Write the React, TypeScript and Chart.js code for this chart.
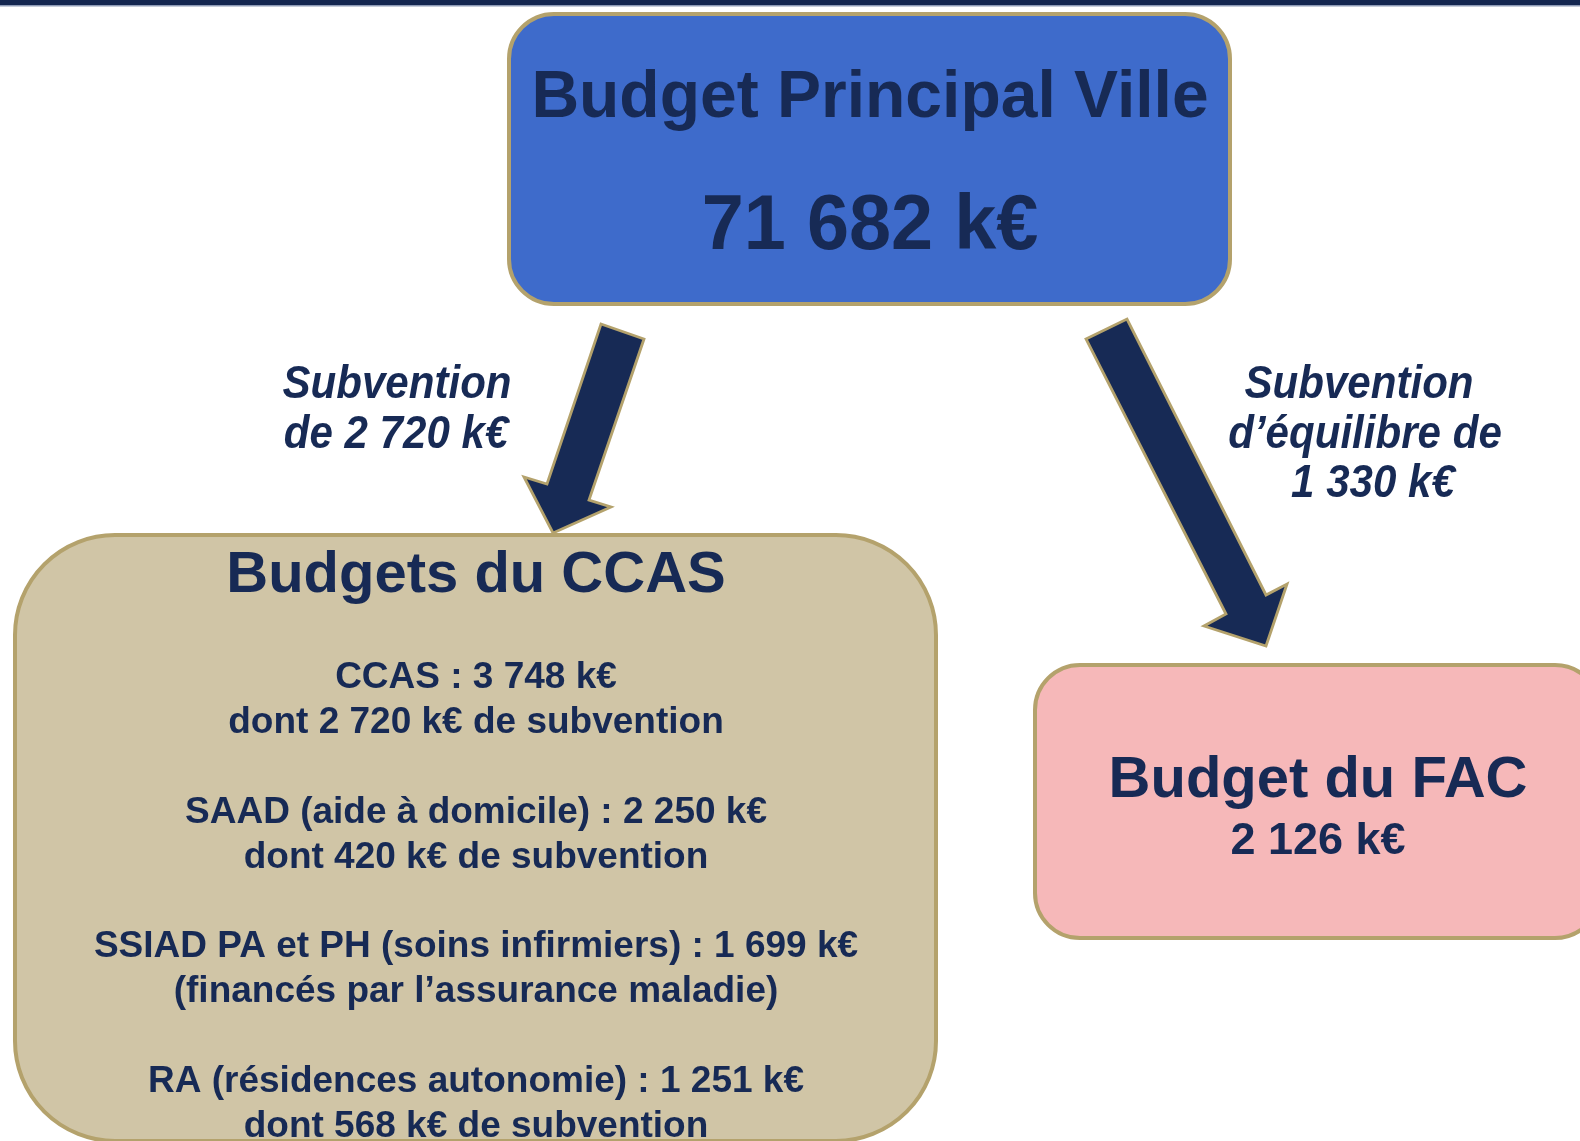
import React, { useEffect, useRef } from "react";
import { Chart, registerables } from "chart.js";

Chart.register(...registerables);

// ---------- DATA ----------
const boxTitles = ["Budget Principal Ville", "Budgets du CCAS", "Budget du FAC"];
const boxAmounts = [71682, null, 2126]; // k€
const transferLabels = [["Subvention", "de {v} k€"], ["Subvention", "d’équilibre de", "{v} k€"]];
const transferAmounts = [2720, 1330]; // k€
const ccasItems = ["CCAS", "SAAD (aide à domicile)", "SSIAD PA et PH (soins infirmiers)", "RA (résidences autonomie)"];
const ccasAmounts = [3748, 2250, 1699, 1251]; // k€
const ccasSubsidies = [2720, 420, null, 568]; // k€
const ccasNotes = [null, null, "(financés par l’assurance maladie)", null];

// ---------- LAYOUT (diagram geometry in canvas units) ----------
const W = 1580;
const H = 1141;
const COLORS = {
  text: "#172a55",
  bar: "#14264f",
  barLine: "#8d9ab5",
  gold: "#b4a26c",
  blue: "#3e6bcb",
  tan: "#d0c5a6",
  pink: "#f6b8b9",
  arrow: "#172a55",
};
const BOXES = [
  { x: 509, y: 14, w: 721, h: 290, r: 45, fill: COLORS.blue },
  { x: 15, y: 535, w: 921, h: 606, r: 100, fill: COLORS.tan },
  { x: 1035, y: 665, w: 565, h: 273, r: 45, fill: COLORS.pink },
];
const ARROWS = [
  [[601, 324], [644, 339], [589, 500], [611, 507], [553, 533], [524, 477], [547, 484]],
  [[1086, 339], [1127, 319], [1266, 595], [1287, 584], [1266, 646], [1204, 626], [1226, 614]],
];
const LABEL_CENTERS = [[397, 396], [1359, 1365, 1373]];

const fmt = (n: number) => String(n).replace(/\B(?=(\d{3})+(?!\d))/g, " ");
const FONT = "'Liberation Sans', Arial, Helvetica, sans-serif";

function drawText(
  ctx: CanvasRenderingContext2D,
  text: string,
  cx: number,
  baseline: number,
  size: number,
  italic = false,
  scaleX = 1
) {
  ctx.save();
  ctx.translate(cx, baseline);
  ctx.scale(scaleX, 1);
  ctx.font = `${italic ? "italic " : ""}bold ${size}px ${FONT}`;
  ctx.fillStyle = COLORS.text;
  ctx.textAlign = "center";
  ctx.textBaseline = "alphabetic";
  ctx.fillText(text, 0, 0);
  ctx.restore();
}

function roundRect(ctx: CanvasRenderingContext2D, x: number, y: number, w: number, h: number, r: number) {
  ctx.beginPath();
  ctx.moveTo(x + r, y);
  ctx.lineTo(x + w - r, y);
  ctx.arcTo(x + w, y, x + w, y + r, r);
  ctx.lineTo(x + w, y + h - r);
  ctx.arcTo(x + w, y + h, x + w - r, y + h, r);
  ctx.lineTo(x + r, y + h);
  ctx.arcTo(x, y + h, x, y + h - r, r);
  ctx.lineTo(x, y + r);
  ctx.arcTo(x, y, x + r, y, r);
  ctx.closePath();
}

const diagramPlugin = {
  id: "budgetDiagram",
  beforeDraw(chart: any) {
    const ctx: CanvasRenderingContext2D = chart.ctx;
    ctx.save();
    ctx.fillStyle = "#ffffff";
    ctx.fillRect(0, 0, chart.width, chart.height);
    ctx.restore();
  },
  afterDraw(chart: any) {
    const ctx: CanvasRenderingContext2D = chart.ctx;
    const sx = chart.scales.x;
    const sy = chart.scales.y;
    const px = (v: number) => sx.getPixelForValue(v);
    const py = (v: number) => sy.getPixelForValue(v);
    const len = (v: number) => px(v) - px(0);

    ctx.save();
    // top bar
    ctx.fillStyle = COLORS.bar;
    ctx.fillRect(px(0), py(0), len(W), 5);
    ctx.fillStyle = COLORS.barLine;
    ctx.fillRect(px(0), py(5), len(W), 1.5);

    // boxes
    BOXES.forEach((b) => {
      roundRect(ctx, px(b.x), py(b.y), len(b.w), len(b.h), len(b.r));
      ctx.fillStyle = b.fill;
      ctx.fill();
      ctx.lineWidth = 4;
      ctx.strokeStyle = COLORS.gold;
      ctx.stroke();
    });

    // arrows
    ARROWS.forEach((pts) => {
      ctx.beginPath();
      pts.forEach(([x, y], i) => (i === 0 ? ctx.moveTo(px(x), py(y)) : ctx.lineTo(px(x), py(y))));
      ctx.closePath();
      ctx.fillStyle = COLORS.arrow;
      ctx.fill();
      ctx.lineWidth = 2.8;
      ctx.lineJoin = "miter";
      ctx.strokeStyle = COLORS.gold;
      ctx.stroke();
    });

    // top box
    drawText(ctx, boxTitles[0], px(870), py(117), 67, false, 0.985);
    drawText(ctx, `${fmt(boxAmounts[0] as number)} k€`, px(870), py(249), 78, false, 0.97);

    // CCAS box
    drawText(ctx, boxTitles[1], px(476), py(592), 58);
    let base = 688;
    ccasItems.forEach((item, i) => {
      drawText(ctx, `${item} : ${fmt(ccasAmounts[i])} k€`, px(476), py(base), 37);
      const second =
        ccasSubsidies[i] != null ? `dont ${fmt(ccasSubsidies[i] as number)} k€ de subvention` : (ccasNotes[i] as string);
      drawText(ctx, second, px(476), py(base + 45), 37);
      base += 134.5;
    });

    // FAC box
    drawText(ctx, boxTitles[2], px(1318), py(797), 58);
    drawText(ctx, `${fmt(boxAmounts[2] as number)} k€`, px(1318), py(854), 45);

    // transfer labels
    transferLabels.forEach((lines, i) => {
      lines.forEach((l, j) => {
        drawText(
          ctx,
          l.replace("{v}", fmt(transferAmounts[i])),
          px(LABEL_CENTERS[i][j]),
          py(398 + j * 49.5),
          46,
          true,
          0.915
        );
      });
    });
    ctx.restore();
  },
};

export default function App() {
  const ref = useRef<HTMLCanvasElement | null>(null);
  useEffect(() => {
    if (!ref.current) return;
    const chart = new Chart(ref.current, {
      type: "scatter",
      data: { datasets: [{ data: [], pointRadius: 0 }] },
      options: {
        responsive: false,
        maintainAspectRatio: false,
        animation: false,
        events: [],
        layout: { padding: 0 },
        plugins: { legend: { display: false }, tooltip: { enabled: false }, title: { display: false } },
        scales: {
          x: { type: "linear", min: 0, max: W, display: false },
          y: { type: "linear", min: 0, max: H, reverse: true, display: false },
        },
      },
      plugins: [diagramPlugin],
    } as any);
    return () => chart.destroy();
  }, []);
  return (
    <div style={{ position: "absolute", left: 0, top: 0, width: W, height: H, overflow: "hidden", background: "#fff" }}>
      <canvas ref={ref} width={W} height={H} style={{ display: "block", width: W, height: H }} />
    </div>
  );
}
